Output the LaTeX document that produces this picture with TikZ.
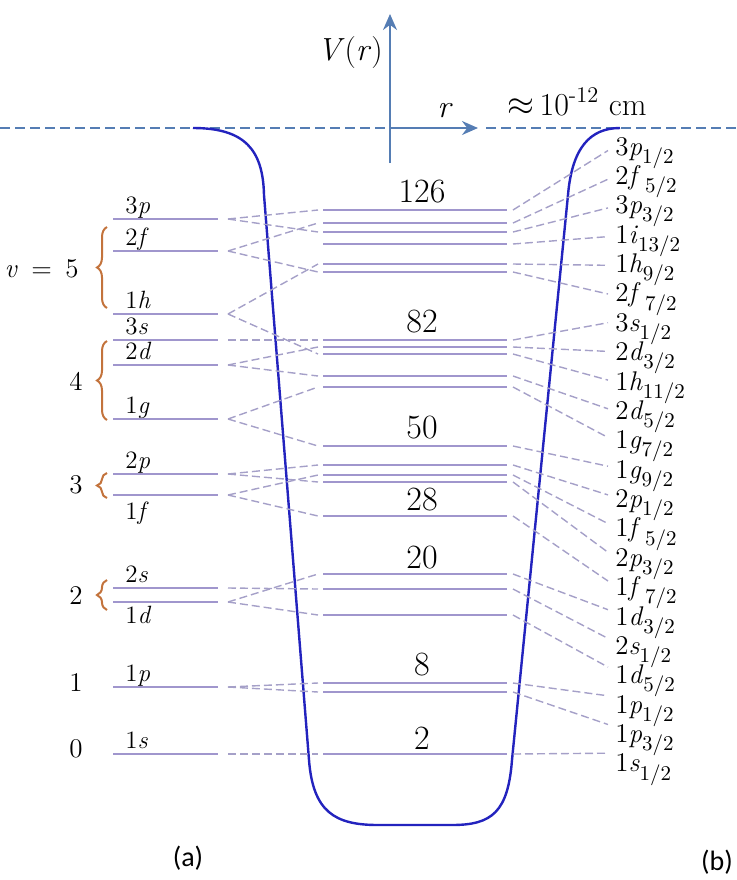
\documentclass[tikz,border=0pt]{standalone}
\usepackage{fontspec}
\newfontfamily\capfont{Carlito}
\usetikzlibrary{arrows.meta,decorations.pathreplacing}

\definecolor{wellblue}{RGB}{35,35,190}
\definecolor{axisblue}{RGB}{85,125,180}
\definecolor{levelgray}{RGB}{160,150,205}
\definecolor{conngray}{RGB}{165,160,200}
\definecolor{bracebrown}{RGB}{195,115,60}

\newcommand\jsub[1]{\raisebox{-0.7ex}{\fontsize{10.5}{12}\selectfont #1}}

\begin{document}
\begin{tikzpicture}[
    x=0.5pt, y=-0.5pt,
    level/.style={draw=levelgray, line width=1pt},
    conn/.style={draw=conngray, line width=0.7pt, dash pattern=on 4pt off 2pt},
    well/.style={draw=wellblue, line width=1.2pt},
    axis/.style={draw=axisblue, line width=1pt, -{Stealth[length=8pt,width=7pt]}},
    zero/.style={draw=axisblue, line width=0.9pt, dash pattern=on 5pt off 2.5pt},
    magic/.style={font=\fontsize{17}{19}\selectfont, inner sep=0pt},
    rlab/.style={anchor=base west, font=\fontsize{13.5}{15}\selectfont, inner sep=0pt},
    llab/.style={anchor=base west, font=\fontsize{12.5}{14}\selectfont, inner sep=0pt},
    vlab/.style={anchor=east, font=\fontsize{13.5}{15}\selectfont, inner sep=0pt},
    shell/.style={draw=bracebrown, line width=1pt, decorate,
        decoration={brace, amplitude=5pt}},
    caption/.style={font=\capfont\fontsize{14}{16}\selectfont}
]
    \useasboundingbox (0,0) rectangle (737,880);

    % Axes and zero line
    \coordinate (origin) at (390,128);
    \coordinate (vbot) at (390,163);
    \coordinate (vtop) at (390,14);
    \coordinate (rtip) at (478,128);
    \coordinate (zl) at (0,128);
    \coordinate (zm) at (486,128);
    \coordinate (zr) at (737,128);
    \draw[zero] (zl) -- (origin);
    \draw[zero] (zm) -- (zr);
    \draw[axis] (vbot) -- (vtop);
    \draw[axis] (origin) -- (rtip);
    \node[font=\fontsize{16}{18}\selectfont] (vr) at (350,53) {\textit{V}(\textit{r})};
    \node[anchor=base, font=\fontsize{16}{18}\selectfont] (rname) at (445,117) {\textit{r}};
    \node[anchor=base west, inner sep=0pt, font=\fontsize{16}{18}\selectfont] (size) at (507,115)
        {$\approx$\,10\textsuperscript{-12} cm};

    % Potential well
    \draw[well] (193,128) .. controls (245,128) and (263,150) .. (264,195)
        -- (309,760) .. controls (313,812) and (335,825) .. (378,825)
        -- (452,825) .. controls (492,825) and (508,812) .. (512,760)
        -- (568,195) .. controls (572,148) and (590,128) .. (620,128);

    % Oscillator levels (a)
    \foreach \n/\yl/\dy/\lab in {3p/219/-6/{3\textit{p}}, 2f/251/-6/{2\textit{f}},
        1h/314/-6/{1\textit{h}}, 3s/340/-6/{3\textit{s}}, 2d/365/-6/{2\textit{d}},
        1g/419/-6/{1\textit{g}}, 2p/474/-6/{2\textit{p}}, 1f/495/24/{1\textit{f}},
        2s/588/-6/{2\textit{s}}, 1d/602/21/{1\textit{d}}, 1p/687/-6/{1\textit{p}},
        1s/754/-6/{1\textit{s}}} {
        \draw[level] (113,\yl) -- (218,\yl);
        \coordinate (l-\n) at (228,\yl);
        \node[llab] (ll-\n) at (125,{\yl+\dy}) {\lab};
    }

    % Shell numbers
    \node[vlab] (v5) at (79,269) {\textit{v}\enspace=\enspace5};
    \foreach \v/\yv in {4/381, 3/485, 2/596, 1/683, 0/749}
        \node[vlab] (v\v) at (83,\yv) {\v};
    \draw[shell] (107,308) -- (107,227);
    \draw[shell] (107,420) -- (107,341);
    \draw[shell] (107,498) -- (107,473);
    \draw[shell] (107,610) -- (107,580);

    % Spin-orbit levels (b)
    \foreach \n/\yc in {p12a/210, f52b/223, p32c/232, i132/244, h92/264, f72b/272,
        s12c/340, d32b/347, h112/354, d52b/376, g72/387, g92/446, p12b/465,
        f52/475, p32b/482, f72/516, d32/574, s12b/589, d52/615, p12/683,
        p32/692, s12/754} {
        \draw[level] (323,\yc) -- (507,\yc);
        \coordinate (c-\n-w) at (318,\yc);
        \coordinate (c-\n-e) at (513,\yc);
    }

    % Magic numbers
    \foreach \m/\ym in {126/192, 82/322, 50/428, 28/500, 20/558, 8/665, 2/738}
        \node[magic] (m\m) at (422,\ym) {\m};

    % Right labels
    \foreach \n/\lab [count=\i from 0] in {
        p12a/{3\textit{p}\jsub{1/2}}, f52b/{2\textit{f}\,\jsub{5/2}},
        p32c/{3\textit{p}\jsub{3/2}}, i132/{1\textit{i}\jsub{13/2}},
        h92/{1\textit{h}\jsub{9/2}}, f72b/{2\textit{f}\,\jsub{7/2}},
        s12c/{3\textit{s}\jsub{1/2}}, d32b/{2\textit{d}\jsub{3/2}},
        h112/{1\textit{h}\jsub{11/2}}, d52b/{2\textit{d}\jsub{5/2}},
        g72/{1\textit{g}\jsub{7/2}}, g92/{1\textit{g}\jsub{9/2}},
        p12b/{2\textit{p}\jsub{1/2}}, f52/{1\textit{f}\,\jsub{5/2}},
        p32b/{2\textit{p}\jsub{3/2}}, f72/{1\textit{f}\,\jsub{7/2}},
        d32/{1\textit{d}\jsub{3/2}}, s12b/{2\textit{s}\jsub{1/2}},
        d52/{1\textit{d}\jsub{5/2}}, p12/{1\textit{p}\jsub{1/2}},
        p32/{1\textit{p}\jsub{3/2}}, s12/{1\textit{s}\jsub{1/2}}} {
        \pgfmathsetmacro\yr{150.5+28.7*\i}
        \pgfmathsetmacro\yt{155+29.38*\i}
        \coordinate (r-\n) at (608,\yr);
        \node[rlab] (t-\n) at (615,\yt) {\lab};
        \draw[conn] (c-\n-e) -- (r-\n);
    }

    % Splitting
    \foreach \a/\b in {3p/p12a, 3p/p32c, 2f/f52b, 2f/f72b, 1h/h92, 1h/h112,
        3s/s12c, 2d/d32b, 2d/d52b, 1g/g72, 1g/g92, 2p/p12b, 2p/p32b,
        1f/f52, 1f/f72, 2s/s12b, 1d/d32, 1d/d52, 1p/p12, 1p/p32, 1s/s12}
        \draw[conn] (l-\a) -- (c-\b-w);

    % Captions
    \node[caption] (capa) at (188,858) {(a)};
    \node[caption] (capb) at (717,862) {(b)};
\end{tikzpicture}
\end{document}
